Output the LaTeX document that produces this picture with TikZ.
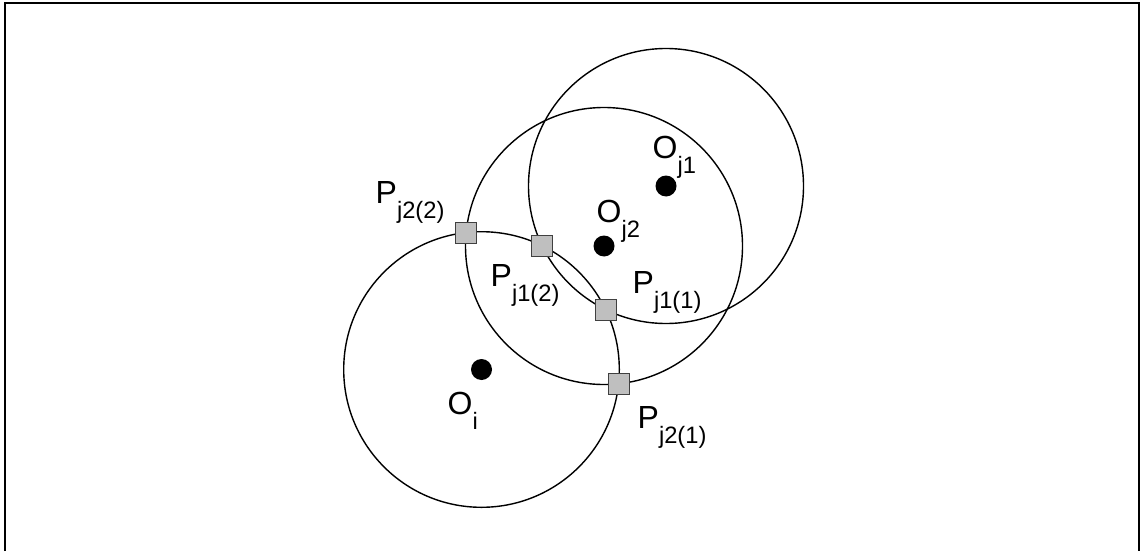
\documentclass[tikz,border=0pt]{standalone}
\usepackage{fontspec}
\setmainfont{Liberation Sans}
\usetikzlibrary{intersections}
\newcommand\sublbl[2]{#1\raisebox{-0.5em}{\fontsize{13.5}{15}\selectfont #2}}

\begin{document}
\begin{tikzpicture}[x=0.02cm, y=-0.02cm, line width=0.8pt,
  centre/.style={circle, fill=black, inner sep=0pt, minimum size=0.42cm},
  crossing/.style={rectangle, draw=black!75, line width=0.6pt, fill=black!25, inner sep=0pt, minimum size=0.42cm},
  lbl/.style={anchor=base west, inner sep=0pt, font=\fontsize{18.2}{20}\selectfont}]
  \useasboundingbox (0,0) rectangle (1142,551);
  % frame
  \draw[line width=1.4pt] (5,551) -- (5,3) -- (1139,3) -- (1139,551);
  % circles
  \draw[name path=ci] (481.5,369.5) circle (137.8);
  \draw[name path=cjtwo] (604,246) circle (138.5);
  \draw[name path=cjone] (666,186) circle (137.5);
  % centres
  \node[centre] (oi) at (481.5,369.5) {};
  \node[centre] (oj2) at (604,246) {};
  \node[centre] (oj1) at (666,186) {};
  % intersection points
  \path[name intersections={of=ci and cjtwo, by={i1,i2}}];
  \path[name intersections={of=ci and cjone, by={k1,k2}}];
  \node[crossing] (pj21) at (i1) {};
  \node[crossing] (pj22) at (i2) {};
  \node[crossing] (pj11) at (k1) {};
  \node[crossing] (pj12) at (k2) {};
  % labels
  \node[lbl] (loi) at (447,414) {\sublbl{O}{i}};
  \node[lbl] (loj2) at (596,222) {\sublbl{O}{j2}};
  \node[lbl] (loj1) at (652,158) {\sublbl{O}{j1}};
  \node[lbl] (lpj22) at (375,203) {\sublbl{P}{j2(2)}};
  \node[lbl] (lpj12) at (490,286) {\sublbl{P}{j1(2)}};
  \node[lbl] (lpj11) at (632,293) {\sublbl{P}{j1(1)}};
  \node[lbl] (lpj21) at (637,428) {\sublbl{P}{j2(1)}};
\end{tikzpicture}
\end{document}
